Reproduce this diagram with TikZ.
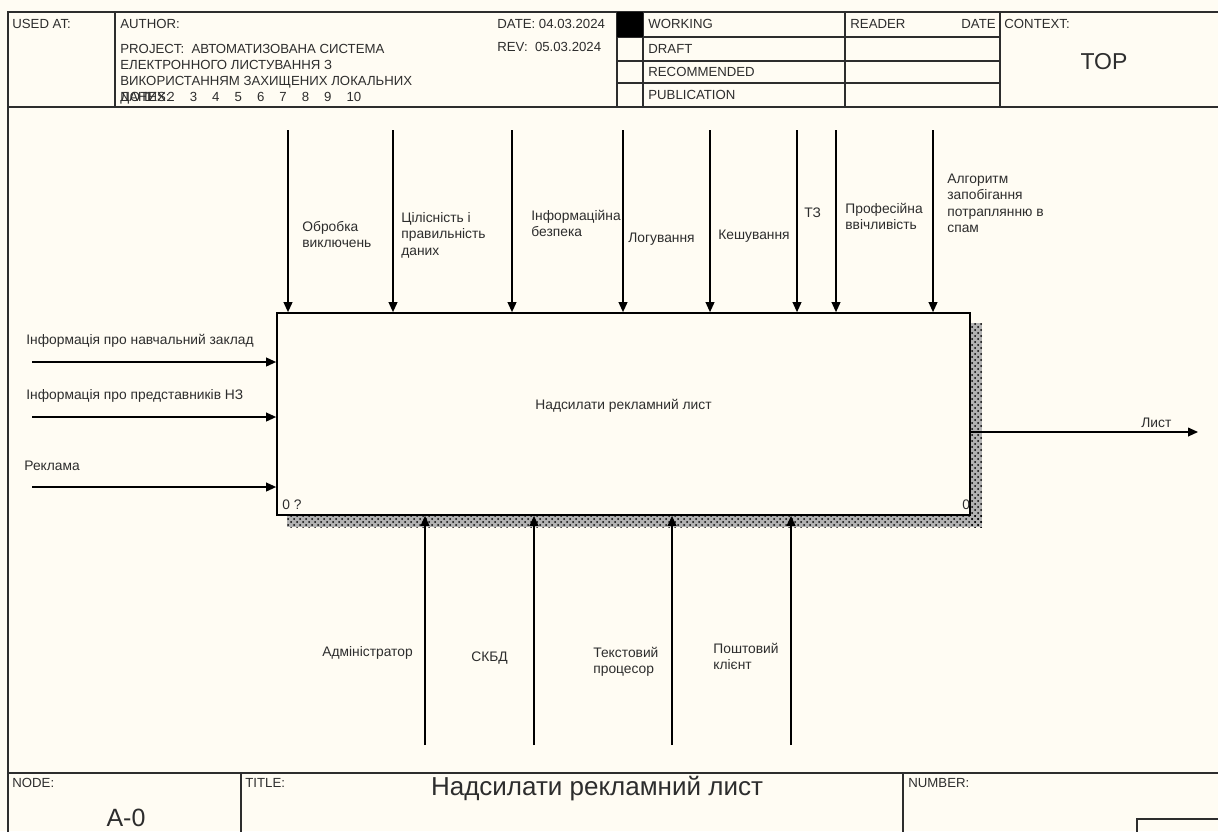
\documentclass[tikz,border=0pt]{standalone}
\usepackage{fontspec}
\setmainfont{Liberation Sans}
\usepackage{tikz}
\usetikzlibrary{arrows.meta,patterns,positioning}

\definecolor{papercream}{RGB}{255,252,243}
\definecolor{inkgray}{RGB}{45,45,45}

\newcommand\lblfont{\fontsize{6.9}{8.25}\selectfont}
\newcommand\hdrfont{\fontsize{6.6}{7.85}\selectfont}
\newcommand\bigfont{\fontsize{11.5}{13}\selectfont}

\tikzset{
  rule/.style={draw=inkgray, line width=0.55pt},
  flow/.style={draw=black, line width=0.7pt, -{Triangle[length=5pt,width=4.4pt]}},
  lbl/.style={font=\lblfont, text=inkgray, inner sep=0pt, align=left, anchor=base west},
  hdr/.style={font=\hdrfont, text=inkgray, inner sep=0pt, anchor=base west},
}

\begin{document}
\begin{tikzpicture}[x=0.5pt,y=-0.5pt]
    % paper
    \fill[papercream] (0,0) rectangle (1218,831);
    \useasboundingbox (0,0) rectangle (1218,831);
    \clip (0,0) rectangle (1218,831);

    % header frame
    \draw[rule] (8,850) -- (8,12) -- (1240,12);
    \draw[rule] (8,107) -- (1240,107);
    \draw[rule] (115,12) -- (115,107); \draw[rule] (617,12) -- (617,107);
    \draw[rule] (643,12) -- (643,107); \draw[rule] (845,12) -- (845,107);
    \draw[rule] (1000,12) -- (1000,107);
    \draw[rule] (617,37) -- (1000,37); \draw[rule] (617,61) -- (1000,61);
    \draw[rule] (617,83) -- (1000,83);
    \fill[black] (617,12) rectangle (643,37);

    % header texts (multi-line nodes sit on their last baseline)
    \node[hdr] (usedat) at (12,28) {USED AT:};
    \node[hdr] (author) at (120,28) {AUTHOR:};
    \node[hdr] (date) at (497,28) {DATE: 04.03.2024};
    \node[hdr] (rev) at (497,51) {REV:\ \ 05.03.2024};
    \node[hdr, align=left] (project) at (120,101)
        {PROJECT:\ \ АВТОМАТИЗОВАНА СИСТЕМА\\ЕЛЕКТРОННОГО ЛИСТУВАННЯ З\\ВИКОРИСТАННЯМ ЗАХИЩЕНИХ ЛОКАЛЬНИХ\\ДАНИХ};
    \node[hdr] (notes) at (120,101) {NOTES:};
    \foreach \k in {1,...,10}
        \node[hdr] (note\k) at ({144.6+22.4*(\k-1)},101) {\k};
    \node[hdr] (working) at (648,28) {WORKING};
    \node[hdr] (draft) at (648,53) {DRAFT};
    \node[hdr] (recommended) at (648,76) {RECOMMENDED};
    \node[hdr] (publication) at (648,99) {PUBLICATION};
    \node[hdr] (reader) at (850,28) {READER};
    \node[hdr, anchor=base east] (rdate) at (996,28) {DATE};
    \node[hdr] (context) at (1004,28) {CONTEXT:};
    \node[font=\bigfont, text=inkgray, inner sep=0pt] (top) at (1104,62) {TOP};

    % shadow
    \fill[black!30] (970,323) rectangle (982,527);
    \fill[black!30] (287,515) rectangle (982,527);
    \fill[pattern=crosshatch dots, pattern color=black] (970,323) rectangle (982,527);
    \fill[pattern=crosshatch dots, pattern color=black] (287,515) rectangle (982,527);

    % activity box
    \node[draw=black, line width=0.85pt, fill=papercream, minimum width=346.5pt,
          minimum height=101pt, inner sep=0pt] (box) at (623.5,414) {};
    \node[font=\lblfont, text=inkgray] (boxtext) at ([yshift=4pt]box.center) {Надсилати рекламний лист};
    \node[lbl] (boxnum) at (282,509) {0 ?};
    \node[lbl] (boxref) at (962,509) {0};

    % controls
    \coordinate (ctl1) at (288,130); \coordinate (ctl2) at (393,130);
    \coordinate (ctl3) at (512,130); \coordinate (ctl4) at (623,130);
    \coordinate (ctl5) at (710,130); \coordinate (ctl6) at (797,130);
    \coordinate (ctl7) at (836,130); \coordinate (ctl8) at (933,130);
    \foreach \c in {1,...,8}
        \draw[flow] (ctl\c) -- (ctl\c |- box.north);
    \node[lbl] (ctltext1) at (302,247.5) {Обробка\\виключень};
    \node[lbl] (ctltext2) at (401,255) {Цілісність і\\правильність\\даних};
    \node[lbl] (ctltext3) at (531,236.5) {Інформаційна\\безпека};
    \node[lbl] (ctltext4) at (628,242) {Логування};
    \node[lbl] (ctltext5) at (718,239) {Кешування};
    \node[lbl] (ctltext6) at (804,217) {ТЗ};
    \node[lbl] (ctltext7) at (845,229.5) {Професійна\\ввічливість};
    \node[lbl] (ctltext8) at (947,232.5) {Алгоритм\\запобігання\\потраплянню в\\спам};

    % inputs
    \coordinate (in1) at (32,362); \coordinate (in2) at (32,417);
    \coordinate (in3) at (32,487);
    \foreach \i in {1,2,3}
        \draw[flow] (in\i) -- (in\i -| box.west);
    \node[lbl] (intext1) at (26,344) {Інформація про навчальний заклад};
    \node[lbl] (intext2) at (26,399) {Інформація про представників НЗ};
    \node[lbl] (intext3) at (24,470) {Реклама};

    % mechanisms
    \coordinate (mech1) at (425,745); \coordinate (mech2) at (534,745);
    \coordinate (mech3) at (672,745); \coordinate (mech4) at (791,745);
    \foreach \m in {1,...,4}
        \draw[flow] (mech\m) -- (mech\m |- box.south);
    \node[lbl] (mechtext1) at (322,656) {Адміністратор};
    \node[lbl] (mechtext2) at (471,661) {СКБД};
    \node[lbl] (mechtext3) at (593,673.5) {Текстовий\\процесор};
    \node[lbl] (mechtext4) at (713,669.5) {Поштовий\\клієнт};

    % output
    \coordinate (out1) at (1198,432);
    \draw[flow] (out1 -| box.east) -- (out1);
    \node[lbl] (outtext1) at (1141,427) {Лист};

    % footer
    \draw[rule] (8,773) -- (1240,773);
    \draw[rule] (241,773) -- (241,850); \draw[rule] (903,773) -- (903,850);
    \draw[rule] (1137,819) rectangle (1250,860);
    \node[hdr] (nodelbl) at (12,787) {NODE:};
    \node[font=\fontsize{12.5}{14}\selectfont, text=inkgray, inner sep=0pt] (nodeid) at (126,818) {A-0};
    \node[hdr] (titlelbl) at (245,787) {TITLE:};
    \node[font=\fontsize{13}{15}\selectfont, text=inkgray, inner sep=0pt] (title) at (597,789) {Надсилати рекламний лист};
    \node[hdr] (numberlbl) at (908,787) {NUMBER:};

\end{tikzpicture}
\end{document}
